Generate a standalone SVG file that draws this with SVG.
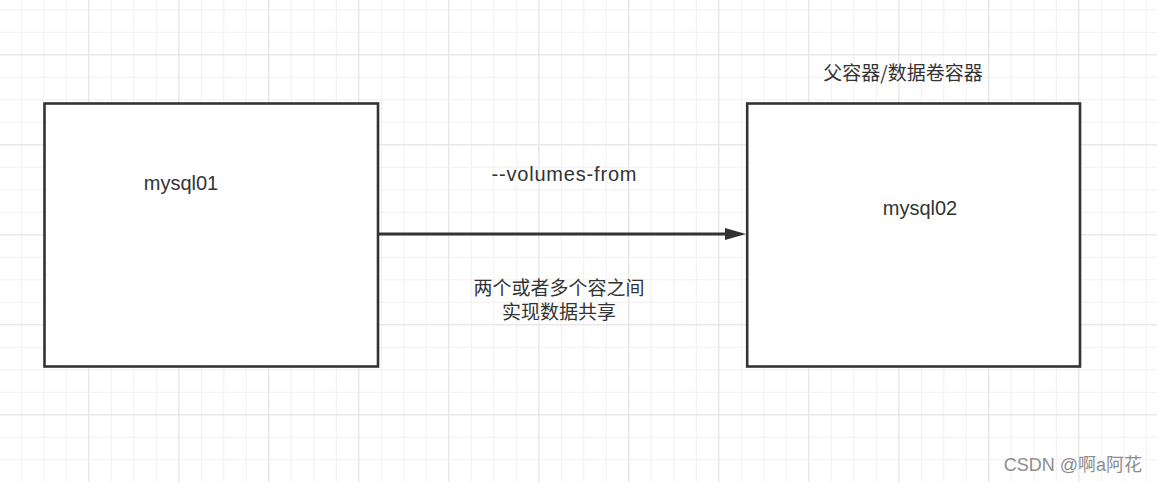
<svg xmlns="http://www.w3.org/2000/svg" width="1157" height="482" viewBox="0 0 1157 482">
  <defs>
    <pattern id="minor" x="20.8" y="9.3" width="22.5" height="22.5" patternUnits="userSpaceOnUse">
      <path d="M0.5 0 V22.5 M0 0.5 H22.5" fill="none" stroke="#f0f0f0" stroke-width="1"/>
    </pattern>
    <pattern id="major" x="88.3" y="54.3" width="90" height="90" patternUnits="userSpaceOnUse">
      <path d="M0.5 0 V90 M0 0.5 H90" fill="none" stroke="#e4e4e4" stroke-width="1"/>
    </pattern>
  </defs>
  <style>
    .box { fill: #ffffff; stroke: #333333; stroke-width: 2.6; }
    .lbl { font-family: "Liberation Sans", "Noto Sans CJK SC", sans-serif; fill: #333333; font-size: 20px; text-anchor: middle; }
    .cjk { font-family: "Noto Sans CJK SC", "Liberation Sans", sans-serif; fill: #333333; font-size: 19px; text-anchor: middle; }
    .edge { stroke: #333333; stroke-width: 3; fill: none; }
    .wm { font-family: "Liberation Sans", "Noto Sans CJK SC", sans-serif; font-size: 18px; fill: #8c8c8c; stroke: #ffffff; stroke-width: 0.6; paint-order: stroke; text-anchor: end; }
  </style>
  <rect width="1157" height="482" fill="#ffffff"/>
  <rect width="1157" height="482" fill="url(#minor)"/>
  <rect width="1157" height="482" fill="url(#major)"/>

  <g id="node-mysql01">
    <rect class="box" x="44.5" y="103.5" width="333.5" height="263"/>
    <text class="lbl" x="181" y="190">mysql01</text>
  </g>

  <g id="node-mysql02">
    <rect class="box" x="747.2" y="103.5" width="332.8" height="263"/>
    <text class="lbl" x="920" y="215">mysql02</text>
  </g>

  <g id="label-parent">
    <text class="cjk" x="903" y="80">父容器/数据卷容器</text>
  </g>

  <g id="connectors">
    <line class="edge" x1="378" y1="234" x2="725" y2="234"/>
    <path d="M725 228 L746 234 L725 240 Z" fill="#333333"/>
    <text class="lbl" x="564" y="181" textLength="145" lengthAdjust="spacing">--volumes-from</text>
    <text class="cjk" x="559" y="295"><tspan x="559" y="295">两个或者多个容之间</tspan><tspan x="559" y="319">实现数据共享</tspan></text>
  </g>

  <text class="wm" x="1142" y="471">CSDN @啊a阿花</text>
</svg>
